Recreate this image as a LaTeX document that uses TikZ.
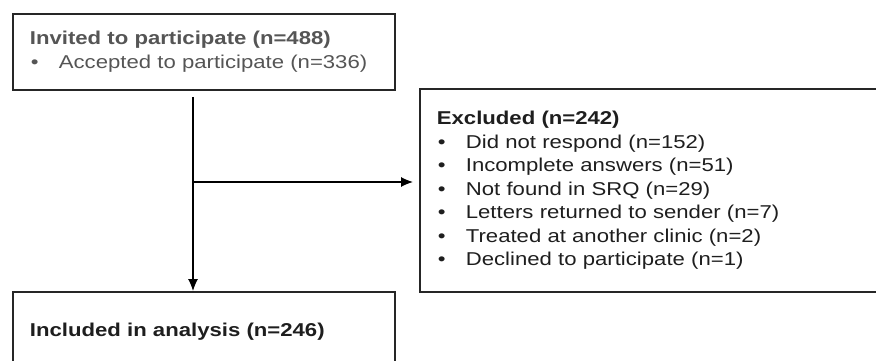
\documentclass[tikz,border=0pt]{standalone}
\usepackage{fontspec}
\setmainfont{Liberation Sans}[FakeStretch=1.19]
\usepackage{tikz}
\usetikzlibrary{arrows.meta}

\definecolor{txtgray}{HTML}{555555}
\definecolor{txtdark}{HTML}{1E1E1E}
\newcommand{\bull}{\hspace*{1pt}\makebox[28pt][l]{•}}

\begin{document}
\begin{tikzpicture}[x=1pt,y=-1pt]

	\tikzstyle{mybox}=[draw=black!85,line width=1.8pt,rectangle,align=left,anchor=north west,
		inner xsep=17pt,inner ysep=0pt,font=\fontsize{18.6}{23.5}\selectfont]
	\tikzstyle{myarrow}=[line width=1.1pt,>={Latex[length=12pt,width=10pt]},->]

	\useasboundingbox (0,0) rectangle (876,361);

	\node[mybox,text=txtgray,text width=348pt,minimum height=76pt] (invited) at (12,13)
		{\textbf{Invited to participate (n=488)}\\
		\bull Accepted to participate (n=336)};

	\node[mybox,text=txtdark,text width=430pt,minimum height=203pt] (excluded) at (419,88)
		{\textbf{Excluded (n=242)}\\
		\bull Did not respond (n=152)\\
		\bull Incomplete answers (n=51)\\
		\bull Not found in SRQ (n=29)\\
		\bull Letters returned to sender (n=7)\\
		\bull Treated at another clinic (n=2)\\
		\bull Declined to participate (n=1)};

	\node[mybox,text=txtdark,text width=348pt,minimum height=80pt] (included) at (12,291)
		{\textbf{Included in analysis (n=246)}};

	\coordinate (split) at (193,182);
%
	\draw[myarrow] ([yshift=-6pt]invited.south -| split) -- (included.north -| split);
	\draw[myarrow] (split) -- ([xshift=-6pt]excluded.west |- split);
\end{tikzpicture}
\end{document}
